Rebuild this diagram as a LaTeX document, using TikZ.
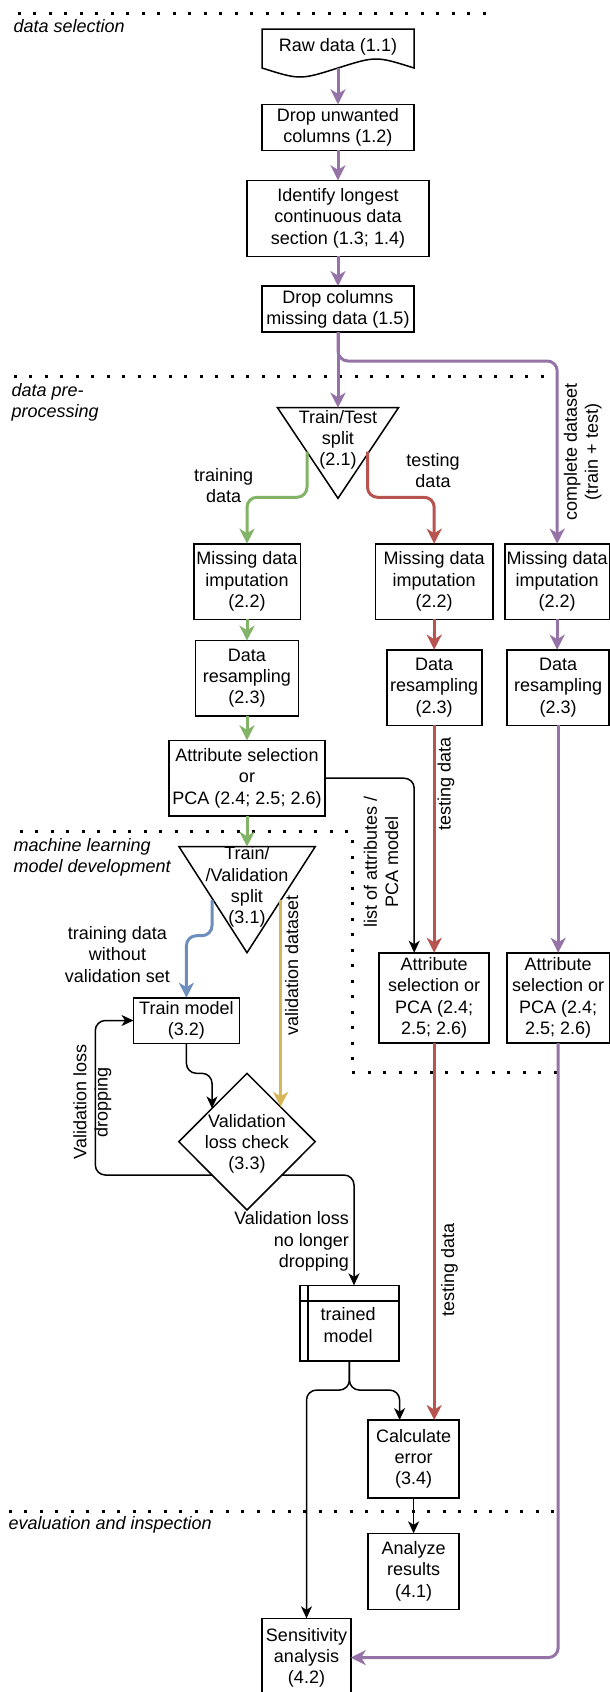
\documentclass[tikz,border=0pt]{standalone}
\usepackage{fontspec}
\setmainfont{Liberation Sans}
\usetikzlibrary{arrows.meta,calc}

\definecolor{flowpurple}{HTML}{9673A6}
\definecolor{flowgreen}{HTML}{82B366}
\definecolor{flowred}{HTML}{B85450}
\definecolor{flowblue}{HTML}{6C8EBF}
\definecolor{flowyellow}{HTML}{D6B656}

\begin{document}
\begin{tikzpicture}[x=1pt,y=-1pt,
  every node/.style={font=\fontsize{18pt}{21.2pt}\selectfont, inner sep=0pt, outer sep=0pt},
  box/.style={draw, line width=1.6pt, fill=white, align=center},
  lbl/.style={align=center},
  outline/.style={draw, line width=1.5pt, fill=white, line join=miter},
  section/.style={font=\fontsize{18pt}{21.2pt}\selectfont\itshape, align=left},
  sepline/.style={line width=3pt, dash pattern=on 3pt off 12.5pt},
  colflow/.style={line width=3pt, rounded corners=10pt, -{Stealth[length=15pt,width=15pt,inset=4.5pt]}},
  pflow/.style={colflow, draw=flowpurple},
  gflow/.style={colflow, draw=flowgreen},
  rflow/.style={colflow, draw=flowred},
  bflow/.style={colflow, draw=flowblue},
  yflow/.style={colflow, draw=flowyellow},
  blk/.style={line width=1.5pt, rounded corners=10pt, -{Stealth[length=12pt,width=11pt,inset=3.5pt]}},
]
\path[use as bounding box, fill=white] (0,0) rectangle (610,1692);

% ---------- section separators and titles ----------
\draw[sepline] (17.5,13.3) -- (492,13.3);
\draw[sepline] (13.6,376.7) -- (552,376.7);
\draw[sepline] (19.5,831.7) -- (352,831.7) -- (352,1072.3) -- (564,1072.3);
\draw[sepline] (8.6,1511) -- (556.4,1511);

\node[section, anchor=base west] (secA) at (13.6,32.3) {data selection};
\node[section, anchor=north west] (secB) at (11.7,383.6) {data pre-\\processing};
\node[section, anchor=north west] (secC) at (13.6,838.6) {machine learning\\model development};
\node[section, anchor=base west] (secD) at (8.6,1529) {evaluation and inspection};

% ---------- data selection ----------
\draw[outline] (262,29) -- (414,29) -- (414,68)
  .. controls (376,56) .. (338,68) .. controls (300,80) .. (262,68) -- cycle;
\node (raw) at (338,47) {Raw data (1.1)};
\coordinate (rawb) at (338,68);

\node[box, minimum width=152pt, minimum height=46pt] (drop1) at (338,127.3) {Drop unwanted\\columns (1.2)};
\node[box, minimum width=182pt, minimum height=76pt] (ident) at (338,218.3) {Identify longest\\continuous data\\section (1.3; 1.4)};
\node[box, minimum width=152pt, minimum height=46pt] (drop2) at (338,309) {Drop columns\\missing data (1.5)};

% ---------- data pre-processing ----------
\draw[outline] (277.5,407.7) -- (398.5,407.7) -- (338,498.3) -- cycle;
\coordinate (t1top) at (338,407.7);
\coordinate (t1g) at (307,451.7);
\coordinate (t1r) at (367.5,451.7);
\node[lbl] (tri1) at (338,439.6) {Train/Test\\split\\(2.1)};

\node[box, minimum width=106.6pt, minimum height=75.6pt] (mdG) at (247,581.5) {Missing data\\imputation\\(2.2)};
\node[box, minimum width=117.5pt, minimum height=75.6pt] (mdR) at (434.2,581.5) {Missing data\\imputation\\(2.2)};
\node[box, minimum width=104.3pt, minimum height=75.6pt] (mdP) at (557.2,581.5) {Missing data\\imputation\\(2.2)};

\node[box, minimum width=102.7pt, minimum height=75.3pt] (rsG) at (247,678.3) {Data\\resampling\\(2.3)};
\node[box, minimum width=95pt, minimum height=75.6pt] (rsR) at (434.2,687.5) {Data\\resampling\\(2.3)};
\node[box, minimum width=102pt, minimum height=75.6pt] (rsP) at (558.2,687.5) {Data\\resampling\\(2.3)};

\node[box, minimum width=155.6pt, minimum height=75.7pt] (attrG) at (247,778.2) {Attribute selection\\or\\PCA (2.4; 2.5; 2.6)};

% ---------- machine learning model development ----------
\draw[outline] (179,846.7) -- (315.2,846.7) -- (247,952.7) -- cycle;
\coordinate (t2top) at (247,846.7);
\coordinate (t2b) at (212,900);
\coordinate (t2y) at (280.6,900);
\node[lbl] (tri2) at (247,887) {Train/\\/Validation\\split\\(3.1)};

\node[box, minimum width=110pt, minimum height=90.3pt] (attrR) at (434.2,997.9) {Attribute\\selection or\\PCA (2.4;\\2.5; 2.6)};
\node[box, minimum width=102.8pt, minimum height=90.3pt] (attrP) at (558.2,997.9) {Attribute\\selection or\\PCA (2.4;\\2.5; 2.6)};

\node[box, minimum width=105.8pt, minimum height=45.6pt] (train) at (186.4,1020.5) {Train model\\(3.2)};

\draw[outline] (247,1073.3) -- (315.2,1141.7) -- (247,1210) -- (178.8,1141.7) -- cycle;
\node[lbl] (check) at (247,1143.7) {Validation\\loss check\\(3.3)};
\coordinate (dtl) at (212,1108.4);
\coordinate (dtr) at (280.6,1106.9);
\coordinate (dbl) at (212.1,1175);
\coordinate (dbr) at (282,1175);

\node[box, minimum width=98.8pt, minimum height=75.7pt] (trained) at (349.4,1323.2) {};
\draw[line width=1.6pt] ([xshift=8.2pt]trained.north west) -- ([xshift=8.2pt]trained.south west);
\draw[line width=1.6pt] ([yshift=-15.4pt]trained.north west) -- ([yshift=-15.4pt]trained.north east);
\node[lbl] (trainedtxt) at (348.2,1325) {trained\\model};

\node[box, minimum width=91.1pt, minimum height=77.7pt] (calc) at (413.6,1458.9) {Calculate\\error\\(3.4)};

% ---------- evaluation and inspection ----------
\node[box, minimum width=91.1pt, minimum height=76pt] (analyze) at (413.6,1571.3) {Analyze\\results\\(4.1)};
\node[box, minimum width=88.5pt, minimum height=78.6pt] (sens) at (306.5,1657.6) {Sensitivity\\analysis\\(4.2)};

% ---------- purple: complete dataset ----------
\draw[pflow] (rawb) -- (drop1.north);
\draw[pflow] (drop1.south) -- (ident.north);
\draw[pflow] (ident.south) -- (drop2.north);
\draw[pflow] (drop2.south) -- (t1top);
\draw[pflow] (drop2.south) -- ++(0,29) -| (mdP.north);
\draw[pflow] (mdP.south) -- (mdP.south |- rsP.north);
\draw[pflow] (rsP.south) -- (attrP.north);
\draw[pflow] (attrP.south) |- (sens.east);
\node[lbl, rotate=90] (lblComplete) at (582.7,452) {complete dataset\\(train + test)};

% ---------- green: training data ----------
\draw[gflow] (t1g) -- ++(0,45.6) -| (mdG.north);
\draw[gflow] (mdG.south) -- (rsG.north);
\draw[gflow] (rsG.south) -- (attrG.north);
\draw[gflow] (attrG.south) -- (t2top);
\node[lbl] (lblTrain) at (223.7,485.8) {training\\data};

% ---------- red: testing data ----------
\draw[rflow] (t1r) -- ++(0,45.6) -| (mdR.north);
\draw[rflow] (mdR.south) -- (rsR.north);
\draw[rflow] (rsR.south) -- (attrR.north);
\draw[rflow] (attrR.south) -- (attrR.south |- calc.north);
\node[lbl] (lblTest) at (433,470.9) {testing\\data};
\node[lbl, rotate=90] (lblTest2) at (446,784) {testing data};
\node[lbl, rotate=90] (lblTest3) at (449.4,1270) {testing data};

% ---------- black: attribute list / PCA model ----------
\draw[blk] (attrG.east) -| ([xshift=-20pt]attrR.north);
\node[lbl, rotate=90] (lblAttr) at (381,862) {list of attributes /\\PCA model};

% ---------- training loop ----------
\draw[bflow] (t2b) -- ++(0,35.7) -| (train.north);
\node[lbl] (lblNoVal) at (117.5,954.5) {training data\\without\\validation set};
\draw[yflow] (t2y) -- (dtr);
\node[lbl, rotate=90] (lblVal) at (291.8,965) {validation dataset};

\draw[blk] (train.south) -- ++(0,30) -| (dtl);
\draw[blk] (dbl) -- (95.3,1175) |- (train.west);
\node[lbl, rotate=90] (lblDrop) at (92.3,1102) {Validation loss\\dropping};
\draw[blk] (dbr) -| ([xshift=4.6pt]trained.north);
\node[align=right, anchor=east] (lblStop) at (349,1241.5) {Validation loss\\no longer\\dropping};

% ---------- evaluation ----------
\draw[blk] (trained.south) -- ++(0,29) -| ([xshift=-14pt]calc.north);
\draw[blk] (trained.south) -- ++(0,29) -| (sens.north);
\draw[blk] (calc.south) -- (analyze.north);
\end{tikzpicture}
\end{document}
